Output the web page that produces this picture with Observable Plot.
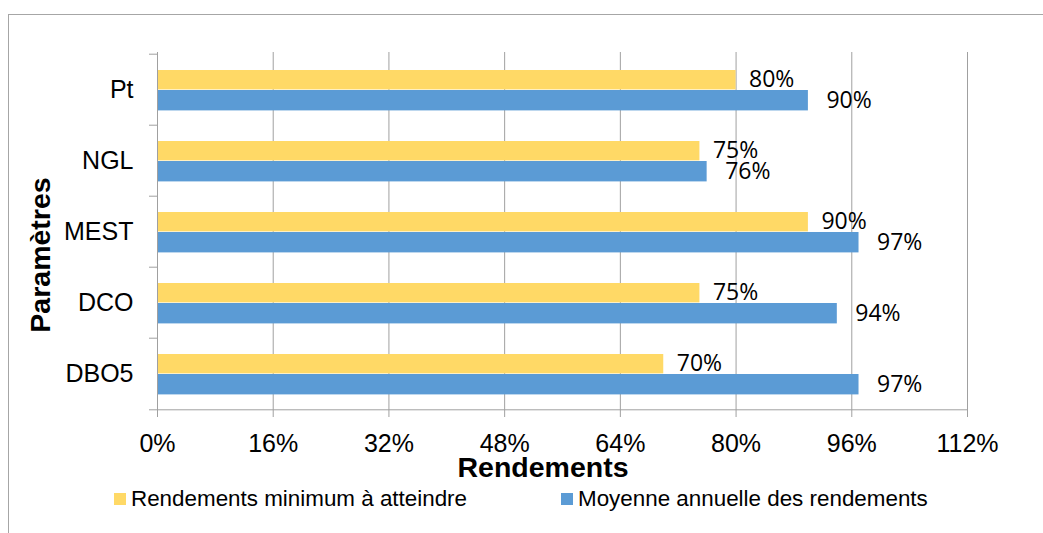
<!DOCTYPE html>
<html>
<head>
<meta charset="utf-8">
<script src="https://cdn.jsdelivr.net/npm/d3@7"></script>
<script src="https://cdn.jsdelivr.net/npm/@observablehq/plot@0.6"></script>
<style>
  html, body { margin: 0; padding: 0; background: #fff; }
  #wrap { position: relative; width: 1043px; height: 533px; overflow: hidden; font-family: "Liberation Sans", Arial, sans-serif; }
  #frame { position: absolute; left: 8px; top: 14px; width: 1200px; height: 700px; border: 1px solid #a6a6a6; box-sizing: border-box; }
  #chart { position: absolute; left: 0; top: 0; }
  .ytitle { position: absolute; left: 40px; top: 255px; transform: translate(-50%, -50%) rotate(-90deg); font-weight: bold; font-size: 28.5px; line-height: 1; white-space: nowrap; }
  .xtitle { position: absolute; left: 543px; top: 453px; transform: translateX(-50%); font-weight: bold; font-size: 28.5px; line-height: 1; white-space: nowrap; }
  .legend { position: absolute; top: 486px; height: 26px; display: flex; align-items: center; font-size: 22.4px; white-space: nowrap; }
  .sw { width: 12px; height: 12px; margin-right: 5px; }
</style>
</head>
<body>
<div id="wrap">
  <div id="frame"></div>
  <div id="chart"></div>
  <div class="ytitle">Paramètres</div>
  <div class="xtitle">Rendements</div>
  <div class="legend" style="left:114px"><div class="sw" style="background:#FFD966"></div>Rendements minimum à atteindre</div>
  <div class="legend" style="left:561px"><div class="sw" style="background:#5B9BD5"></div>Moyenne annuelle des rendements</div>
</div>
<script>
const categories = ["Pt", "NGL", "MEST", "DCO", "DBO5"];
const seriesNames = ["Rendements minimum à atteindre", "Moyenne annuelle des rendements"];
const minimum = [0.80, 0.75, 0.90, 0.75, 0.70];
const moyenne = [0.90, 0.76, 0.97, 0.94, 0.97];
const xTicks = [0, 0.16, 0.32, 0.48, 0.64, 0.80, 0.96, 1.12];
const colors = ["#FFD966", "#5B9BD5"];

const minRows = categories.map((c, i) => ({cat: c, serie: seriesNames[0], value: minimum[i]}));
const moyRows = categories.map((c, i) => ({cat: c, serie: seriesNames[1], value: moyenne[i]}));

const W = 1043, H = 533;
const mL = 157, mR = 76, mT = 52, mB = 123;
const plotW = W - mL - mR;
const bw = (H - mT - mB) / categories.length;
const grey = "#a0a0a0";
const fmt = d => Math.round(d * 100) + "%";

const chart = Plot.plot({
  width: W, height: H,
  marginLeft: mL, marginRight: mR, marginTop: mT, marginBottom: mB,
  x: {domain: [0, 1.12]},
  y: {domain: categories, padding: 0},
  style: {fontFamily: "'Liberation Sans', Arial, sans-serif", fontSize: "25px", color: "#000", background: "transparent"},
  marks: [
    Plot.gridX(xTicks, {stroke: grey, strokeOpacity: 1, strokeWidth: 1}),
    Plot.barX(minRows, {x: "value", y: "cat", fill: colors[0], insetTop: 16, insetBottom: bw - 36}),
    Plot.barX(moyRows, {x: "value", y: "cat", fill: colors[1], insetTop: 36, insetBottom: bw - 57}),
    Plot.text(minRows, {x: "value", y: "cat", text: d => fmt(d.value), dx: 13, dy: -10, textAnchor: "start", fontFamily: "'Open Sans', sans-serif", fontSize: 23, fill: "#000"}),
    Plot.text(moyRows, {x: "value", y: "cat", text: d => fmt(d.value), dx: 18, dy: 11, textAnchor: "start", fontFamily: "'Open Sans', sans-serif", fontSize: 23, fill: "#000"}),
    Plot.ruleX([0], {stroke: grey, insetBottom: -7}),
    Plot.ruleY(categories, {y: d => d, dy: -bw / 2, insetLeft: -8, insetRight: plotW, stroke: grey}),
    Plot.ruleY([categories[categories.length - 1]], {y: d => d, dy: bw / 2, insetLeft: -8, stroke: grey}),
    Plot.axisX(xTicks, {tickSize: 7, tickPadding: 17, tickFormat: fmt, stroke: grey, fill: "#000", label: null}),
    Plot.axisY({tickSize: 0, tickPadding: 24, label: null, fill: "#000"})
  ]
});
document.getElementById("chart").appendChild(chart);
</script>
</body>
</html>
